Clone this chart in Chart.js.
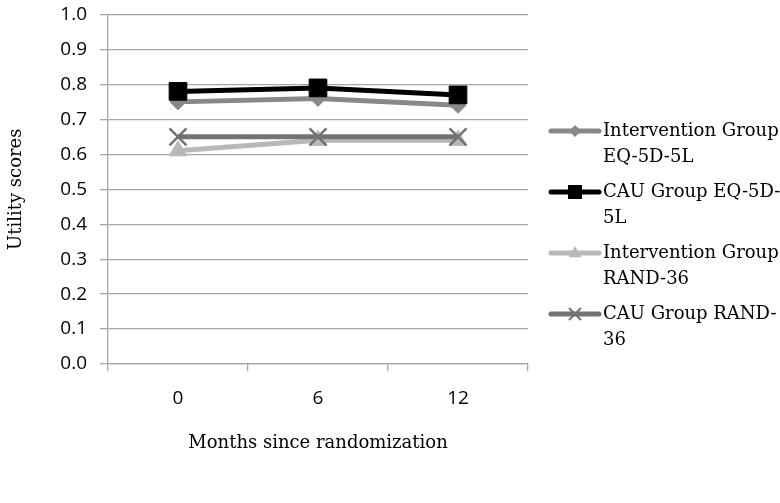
<!DOCTYPE html>
<html>
<head>
<meta charset="utf-8">
<script src="https://cdn.jsdelivr.net/npm/chart.js@4/dist/chart.umd.min.js"></script>
<style>
  html, body { margin: 0; padding: 0; background: #fff; }
  #wrap { width: 780px; height: 503px; }
</style>
</head>
<body>
<div id="wrap"><canvas id="utilityChart"></canvas></div>
<script>
// data
const months = ['0', '6', '12'];
const interventionEQ = [0.75, 0.76, 0.74];
const cauEQ = [0.78, 0.79, 0.77];
const interventionRAND = [0.61, 0.64, 0.64];
const cauRAND = [0.65, 0.65, 0.65];
const seriesNames = [
    ['Intervention Group', 'EQ-5D-5L'],
    ['CAU Group EQ-5D-', '5L'],
    ['Intervention Group', 'RAND-36'],
    ['CAU Group RAND-', '36']
];

const serif = '"DejaVu Serif", serif';
const sans = '"Open Sans", sans-serif';
const gridGray = '#a6a6a6';

function marker(ctx, style, x, y, r) {
    ctx.beginPath();
    if (style === 'rectRot') {
        ctx.moveTo(x, y - r); ctx.lineTo(x + r, y); ctx.lineTo(x, y + r); ctx.lineTo(x - r, y);
        ctx.closePath(); ctx.fill();
    } else if (style === 'rect') {
        ctx.rect(x - r, y - r, 2 * r, 2 * r); ctx.fill();
    } else if (style === 'triangle') {
        ctx.moveTo(x, y - r); ctx.lineTo(x + r * 0.9, y + r * 0.6); ctx.lineTo(x - r * 0.9, y + r * 0.6);
        ctx.closePath(); ctx.fill();
    } else if (style === 'crossRot') {
        ctx.lineWidth = 2;
        ctx.moveTo(x - r, y - r); ctx.lineTo(x + r, y + r);
        ctx.moveTo(x + r, y - r); ctx.lineTo(x - r, y + r);
        ctx.stroke();
    }
}

// legend on the right with wrapped names
const sideLegend = {
    id: 'sideLegend',
    afterDraw(chart) {
        const ctx = chart.ctx;
        const sizes = [6, 7, 7, 6];
        ctx.save();
        chart.data.datasets.forEach((ds, i) => {
            const y = 131 + i * 61;
            ctx.strokeStyle = ds.borderColor;
            ctx.fillStyle = ds.borderColor;
            ctx.lineWidth = 5;
            ctx.lineCap = 'round';
            ctx.beginPath();
            ctx.moveTo(551, y);
            ctx.lineTo(599, y);
            ctx.stroke();
            ctx.lineCap = 'butt';
            marker(ctx, ds.pointStyle, 575, y, sizes[i]);
            ctx.fillStyle = '#000';
            ctx.font = '18px ' + serif;
            ctx.textBaseline = 'middle';
            ctx.textAlign = 'left';
            seriesNames[i].forEach((line, k) => {
                ctx.fillText(line, 603, y + k * 26);
            });
        });
        ctx.restore();
    }
};

const ctx = document.getElementById('utilityChart').getContext('2d');
new Chart(ctx, {
    type: 'line',
    data: {
        labels: months,
        datasets: [{
            label: seriesNames[0].join(' '),
            data: interventionEQ,
            borderColor: '#888888',
            backgroundColor: '#888888',
            borderWidth: 5,
            pointStyle: 'rectRot',
            pointRadius: 8,
            pointBorderWidth: 1,
            order: 4
        }, {
            label: seriesNames[1].join(' '),
            data: cauEQ,
            borderColor: '#000000',
            backgroundColor: '#000000',
            borderWidth: 5,
            pointStyle: 'rect',
            pointRadius: 12.5,
            pointBorderWidth: 1,
            order: 3
        }, {
            label: seriesNames[2].join(' '),
            data: interventionRAND,
            borderColor: '#b8b8b8',
            backgroundColor: '#b8b8b8',
            borderWidth: 5,
            pointStyle: 'triangle',
            pointRadius: 10,
            pointBorderWidth: 1,
            order: 2
        }, {
            label: seriesNames[3].join(' '),
            data: cauRAND,
            borderColor: '#727272',
            backgroundColor: '#727272',
            borderWidth: 5,
            pointStyle: 'crossRot',
            pointRadius: 12,
            pointBorderWidth: 2.5,
            order: 1
        }]
    },
    options: {
        responsive: true,
        maintainAspectRatio: false,
        animation: false,
        layout: {
            padding: { top: 14, right: 252, bottom: 0, left: 0 }
        },
        scales: {
            x: {
                offset: true,
                grid: {
                    offset: true,
                    drawOnChartArea: false,
                    drawTicks: true,
                    tickLength: 7,
                    color: gridGray,
                    lineWidth: 1.3
                },
                border: { color: gridGray, width: 1.3 },
                ticks: {
                    color: '#000',
                    padding: 16,
                    font: { family: sans, size: 19 }
                },
                title: {
                    display: true,
                    text: 'Months since randomization',
                    color: '#000',
                    padding: { top: 0, bottom: 49 },
                    font: { family: serif, size: 18 }
                },
                afterFit: scale => {
                    scale.height = 139;
                    scale.paddingLeft = 0;
                    scale.paddingRight = 0;
                }
            },
            y: {
                min: 0,
                max: 1,
                grid: {
                    color: gridGray,
                    lineWidth: 1.3,
                    tickLength: 8
                },
                border: { color: gridGray, width: 1.3 },
                ticks: {
                    stepSize: 0.1,
                    color: '#000',
                    padding: 13,
                    font: { family: sans, size: 19 },
                    callback: v => v.toFixed(1)
                },
                title: {
                    display: true,
                    text: 'Utility scores',
                    color: '#000',
                    padding: { top: 6, bottom: 0 },
                    font: { family: serif, size: 18 }
                },
                afterFit: scale => {
                    scale.width = 108;
                    scale.paddingTop = 0;
                    scale.paddingBottom = 0;
                }
            }
        },
        plugins: {
            legend: { display: false },
            tooltip: { enabled: false }
        }
    },
    plugins: [sideLegend]
});
</script>
</body>
</html>
